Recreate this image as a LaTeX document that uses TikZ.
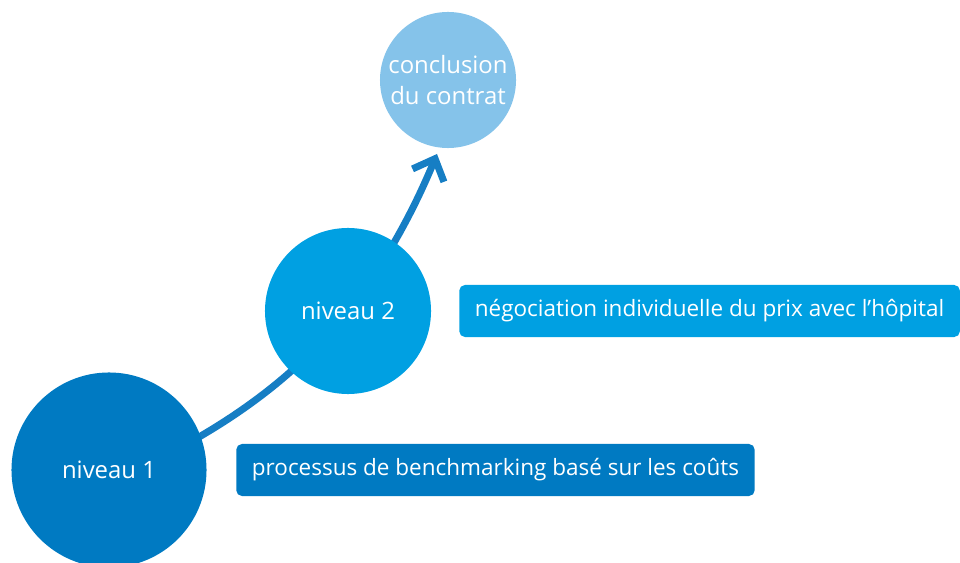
\documentclass[tikz,border=0pt]{standalone}
\usepackage{fontspec}
\setmainfont{Open Sans}
\usepackage{xcolor}
\usetikzlibrary{arrows.meta, backgrounds}

\definecolor{levelone}{RGB}{0,122,194}
\definecolor{leveltwo}{RGB}{0,160,226}
\definecolor{levelthree}{RGB}{133,195,234}
\definecolor{pathblue}{RGB}{22,126,196}

\begin{document}
\begin{tikzpicture}[x=0.025cm, y=-0.025cm,
      level/.style={circle, text=white, inner sep=0pt, align=center, font=\fontsize{17}{22}\selectfont},
      infobox/.style={rectangle, rounded corners=4pt, text=white, anchor=west, minimum height=1.3cm, inner xsep=0.39cm, font=\fontsize{16}{20}\selectfont},
      arrow/.style={draw=pathblue, line width=5pt, -{Straight Barb[sharp, length=0.45cm, width=0.85cm]}}
    ]
    \useasboundingbox (0,0) rectangle (960,563);

    % Levels
    \node[level, fill=levelone, minimum size=4.875cm] (n1) at (109,470) {niveau 1};
    \node[level, fill=leveltwo, minimum size=4.15cm] (n2) at (348,311) {niveau 2};
    \node[level, fill=levelthree, minimum size=3.4cm] (n3) at (448,80) {conclusion\\du contrat};
    \coordinate (tip) at (437,154);

    % Path behind the levels
    \begin{scope}[on background layer]
      \draw[arrow] ([shift={(-8,4)}]n1.20) .. controls (257,404) and (308,362) .. (n2.center)
        .. controls (385,264) and (414,210) .. (tip);
    \end{scope}

    % Descriptions
    \node[infobox, fill=leveltwo] (d2) at (459,311) {négociation individuelle du prix avec l’hôpital};
    \node[infobox, fill=levelone] (d1) at (236,470) {processus de benchmarking basé sur les coûts};
  \end{tikzpicture}
\end{document}
